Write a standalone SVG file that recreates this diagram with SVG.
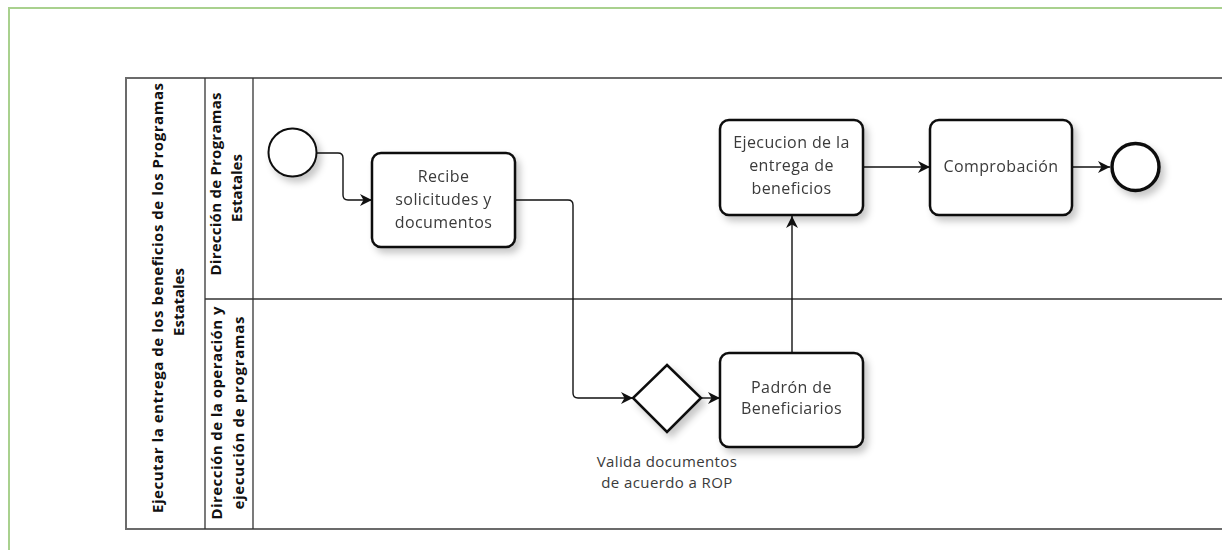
<svg xmlns="http://www.w3.org/2000/svg" width="1222" height="550" viewBox="0 0 1222 550">
  <style>
    .frame { fill: none; stroke: #a9d18e; stroke-width: 2; }
    .pool { fill: none; stroke: #6b6b6b; stroke-width: 2; }
    .lane { fill: none; stroke: #333; stroke-width: 1.3; }
    .hdr { font-family: "Open Sans", "Liberation Sans", sans-serif; font-weight: 700; font-size: 15px; fill: #111; text-anchor: middle; }
    .task { fill: #fff; stroke: #111; stroke-width: 2.5; }
    .lbl { font-family: "Open Sans", "Noto Sans", sans-serif; font-size: 16px; fill: #3a3a3a; text-anchor: middle; letter-spacing: 0.4px; }
    .glbl { font-family: "Open Sans", "Noto Sans", sans-serif; font-size: 15px; fill: #3a3a3a; text-anchor: middle; letter-spacing: 0.4px; }
    .flow { fill: none; stroke: #111; stroke-width: 1.4; marker-end: url(#arrow); }
  </style>
  <defs>
    <marker id="arrow" viewBox="0 0 12 12" refX="12" refY="6" markerWidth="12" markerHeight="12" markerUnits="userSpaceOnUse" orient="auto">
      <path d="M0,0 L12,6 L0,12 L3.5,6 Z" fill="#111"/>
    </marker>
    <filter id="shadow" x="-20%" y="-20%" width="150%" height="150%">
      <feDropShadow dx="4" dy="5" stdDeviation="3.5" flood-color="#000" flood-opacity="0.22"/>
    </filter>
  </defs>

  <rect width="1222" height="550" fill="#fff"/>
  <!-- outer page frame -->
  <rect class="frame" x="9" y="8" width="1240" height="570"/>

  <!-- pool and lanes -->
  <g id="pool">
    <rect class="pool" x="126" y="78" width="1120" height="451"/>
    <line class="lane" x1="205" y1="78" x2="205" y2="529"/>
    <line class="lane" x1="253" y1="78" x2="253" y2="529"/>
    <line class="lane" x1="205" y1="299" x2="1222" y2="299"/>
    <g transform="translate(163,298) rotate(-90)">
      <text class="hdr" x="0" y="0" textLength="430" lengthAdjust="spacing">Ejecutar la entrega de los beneficios de los Programas</text>
    </g>
    <g transform="translate(184,302) rotate(-90)">
      <text class="hdr" x="0" y="0">Estatales</text>
    </g>
  </g>
  <g id="lane-direccion-programas">
    <g transform="translate(221,184) rotate(-90)"><text class="hdr" textLength="183" lengthAdjust="spacing">Dirección de Programas</text></g>
    <g transform="translate(242,188) rotate(-90)"><text class="hdr">Estatales</text></g>
  </g>
  <g id="lane-direccion-operacion">
    <g transform="translate(222,413) rotate(-90)"><text class="hdr" textLength="213" lengthAdjust="spacing">Dirección de la operación y</text></g>
    <g transform="translate(244,413) rotate(-90)"><text class="hdr" textLength="193" lengthAdjust="spacing">ejecución de programas</text></g>
  </g>

  <!-- sequence flows -->
  <g id="connectors">
    <path class="flow" d="M317,153 H338 Q343,153 343,158 V195 Q343,200 348,200 H372"/>
    <path class="flow" d="M515,200 H568 Q573,200 573,205 V393 Q573,398 578,398 H633"/>
    <path class="flow" d="M701,398 H720"/>
    <path class="flow" d="M792,353 V216"/>
    <path class="flow" d="M863,167 H930"/>
    <path class="flow" d="M1072,167 H1110"/>
  </g>

  <g id="start" filter="url(#shadow)">
    <circle cx="292.5" cy="152.5" r="24" fill="#fff" stroke="#111" stroke-width="2"/>
  </g>

  <g id="recibe" filter="url(#shadow)">
    <rect class="task" x="372" y="153" width="143" height="94" rx="9"/>
    <text class="lbl" x="443.5" y="182">Recibe</text>
    <text class="lbl" x="443.5" y="205">solicitudes y</text>
    <text class="lbl" x="443.5" y="228">documentos</text>
  </g>

  <g id="valida" filter="url(#shadow)">
    <path d="M667,365 L701,398 L667,432 L633,398 Z" fill="#fff" stroke="#111" stroke-width="2.5" stroke-linejoin="miter"/>
  </g>
  <g id="valida-label">
    <text class="glbl" x="667" y="467">Valida documentos</text>
    <text class="glbl" x="667" y="488">de acuerdo a ROP</text>
  </g>

  <g id="padron" filter="url(#shadow)">
    <rect class="task" x="720" y="353" width="143" height="94" rx="9"/>
    <text class="lbl" x="791.5" y="393">Padrón de</text>
    <text class="lbl" x="791.5" y="414">Beneficiarios</text>
  </g>

  <g id="ejecucion" filter="url(#shadow)">
    <rect class="task" x="720" y="120" width="143" height="95" rx="9"/>
    <text class="lbl" x="791.5" y="148">Ejecucion de la</text>
    <text class="lbl" x="791.5" y="171">entrega de</text>
    <text class="lbl" x="791.5" y="194">beneficios</text>
  </g>

  <g id="comprobacion" filter="url(#shadow)">
    <rect class="task" x="930" y="120" width="142" height="95" rx="9"/>
    <text class="lbl" x="1001" y="172">Comprobación</text>
  </g>

  <g id="end" filter="url(#shadow)">
    <circle cx="1135.5" cy="167" r="23.5" fill="#fff" stroke="#111" stroke-width="3.5"/>
  </g>
</svg>
